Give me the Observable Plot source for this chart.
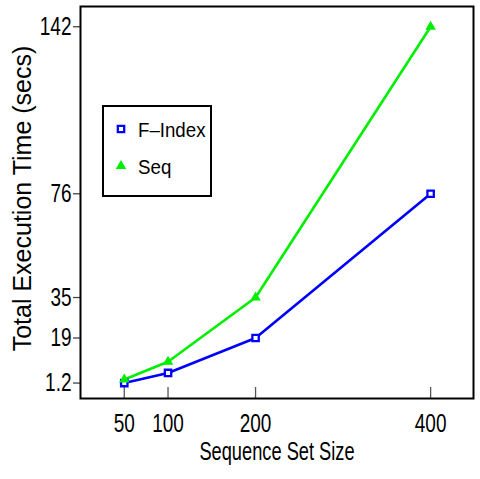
<!DOCTYPE html>
<html><head><meta charset="utf-8">
<script src="https://cdn.jsdelivr.net/npm/d3@7"></script>
<script src="https://cdn.jsdelivr.net/npm/@observablehq/plot@0.6"></script>
<style>
body{margin:0;background:#fff}
#wrap{position:relative;width:480px;height:479px;overflow:hidden}
#legend{position:absolute;left:102px;top:105px;width:110px;height:92px;box-sizing:border-box;border:2px solid #000;background:#fff}
</style>
</head><body><div id="wrap"></div>
<script>
const sizes = [50, 100, 200, 400];
const fIndex = [1.2, 5.2, 19, 76];
const seq = [2.6, 9.6, 35, 142];
const seriesNames = ["F\u2013Index", "Seq"];
const seriesColors = ["#0000ff", "#00ee00"];
const xTicks = [50, 100, 200, 400];
const yTicks = [1.2, 19, 35, 76, 142];
const xLabel = "Sequence Set Size";
const yLabel = "Total Execution Time (secs)";

const font = "'Liberation Sans',Arial,Helvetica,sans-serif";

const data = [
  ...sizes.map((x, i) => ({series: seriesNames[0], x, y: fIndex[i]})),
  ...sizes.map((x, i) => ({series: seriesNames[1], x, y: seq[i]}))
];

const plot = Plot.plot({
  width: 480, height: 479,
  marginLeft: 80, marginTop: 6, marginRight: 7, marginBottom: 81,
  x: {domain: [0, 449]},
  y: {domain: [-4.9, 150]},
  color: {domain: seriesNames, range: seriesColors},
  style: {fontFamily: font, background: "white", color: "black"},
  marks: [
    Plot.axisX(xTicks, {tickSize: 11, dy: -11, tickFormat: () => "", stroke: "#555", strokeWidth: 1.3, label: null}),
    Plot.axisX(xTicks, {tickSize: 0, tickPadding: 15, fontSize: 26, tickFormat: d => String(d), label: null}),
    Plot.axisY(yTicks, {tickSize: 7, tickPadding: 2, fontSize: 26, tickFormat: d => String(d), stroke: "#444", strokeWidth: 1.3, label: null}),
    Plot.line(data, {x: "x", y: "y", z: "series", stroke: "series", strokeWidth: 2.6}),
    Plot.dot(data.filter(d => d.series === seriesNames[0]), {x: "x", y: "y", symbol: "square", stroke: "series", fill: "white", strokeWidth: 2.3, r: 3.6}),
    Plot.dot(data.filter(d => d.series === seriesNames[1]), {x: "x", y: "y", symbol: "triangle", fill: "series", r: 3.9}),
    Plot.frame({stroke: "black", strokeWidth: 2}),
    Plot.text([xLabel], {text: d => d, frameAnchor: "bottom", dy: 61, fontSize: 25}),
    Plot.text([yLabel], {text: d => d, frameAnchor: "left", textAnchor: "middle", rotate: -90, dx: -58, dy: -4, fontSize: 25})
  ]
});
const wrap = document.getElementById("wrap");
wrap.appendChild(plot);

function compress(nodes, factor) {
  nodes.forEach(node => {
    const w = node.getComputedTextLength();
    if (w > 0) {
      node.setAttribute("textLength", (w * factor).toFixed(1));
      node.setAttribute("lengthAdjust", "spacingAndGlyphs");
    }
  });
}
// horizontal texts are drawn condensed in the reference; the rotated y label is not
Array.from(plot.querySelectorAll("text")).forEach(t => {
  const tr = (t.getAttribute("transform") || "") + " " + ((t.parentNode && t.parentNode.getAttribute && t.parentNode.getAttribute("transform")) || "");
  if (!/rotate/.test(tr)) compress([t], 0.73);
});

// legend
const leg = document.createElement("div");
leg.id = "legend";
wrap.appendChild(leg);
const svg = d3.select(leg).append("svg").attr("width", 106).attr("height", 88).style("display", "block");
const rowsY = [22, 59];
seriesNames.forEach((name, i) => {
  const g = svg.append("g").attr("transform", `translate(17,${rowsY[i]})`);
  if (i === 0) {
    g.append("path").attr("d", d3.symbol(d3.symbolSquare, Math.PI * 3.6 * 3.6)())
      .attr("fill", "white").attr("stroke", seriesColors[i]).attr("stroke-width", 2.3);
  } else {
    g.append("path").attr("d", d3.symbol(d3.symbolTriangle, Math.PI * 3.9 * 3.9)())
      .attr("fill", seriesColors[i]);
  }
  const t = svg.append("text").attr("x", 34).attr("y", rowsY[i] + 8)
    .attr("font-family", font).attr("font-size", 21).text(name);
  compress([t.node()], 0.89);
});
</script>
</body></html>
